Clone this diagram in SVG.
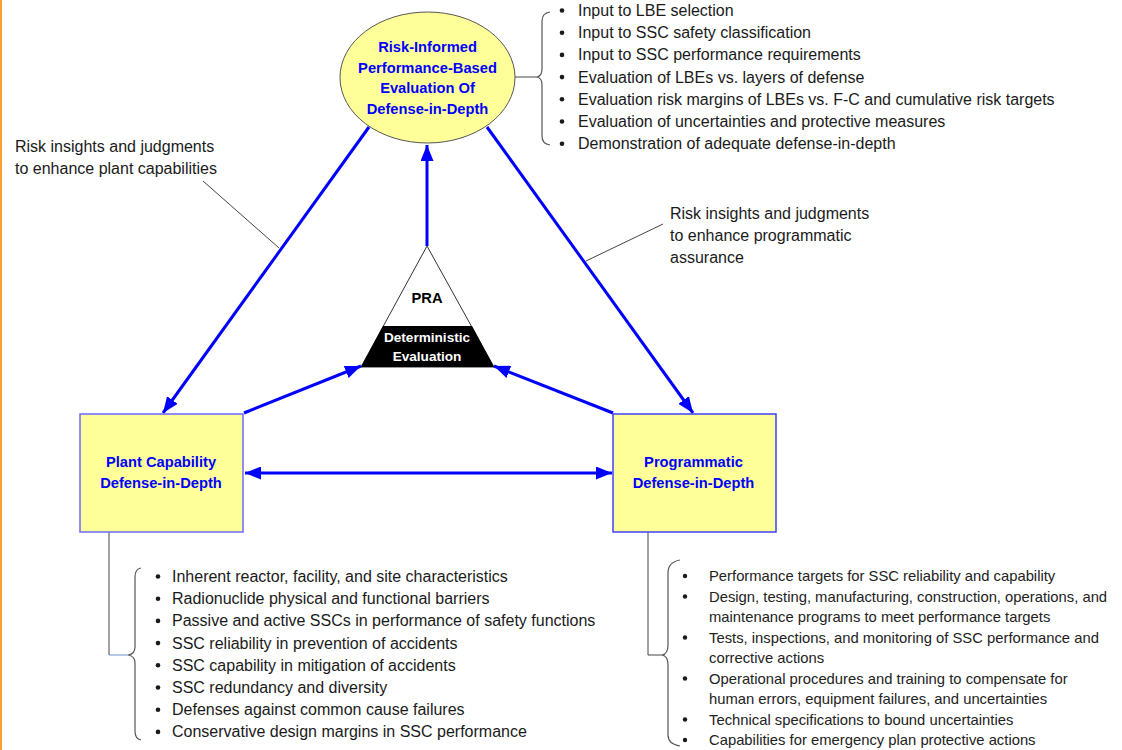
<svg xmlns="http://www.w3.org/2000/svg" width="1122" height="750" viewBox="0 0 1122 750">
<style>
.node-title{font-family:"Liberation Sans",Arial,sans-serif;font-weight:bold;fill:#0000ff;font-size:14.7px;text-anchor:middle}
.txt{font-family:"Liberation Sans",Arial,sans-serif;fill:#1a1a1a;font-size:16px}
.txt2{font-family:"Liberation Sans",Arial,sans-serif;fill:#222;font-size:14.8px}
.blue{stroke:#0000ff;stroke-width:3;fill:none}
.thin{stroke:#444;stroke-width:1;fill:none}
.brace{stroke:#555;stroke-width:1.2;fill:none}
.dot{fill:#1a1a1a}
</style>
<defs>
<marker id="ah" markerUnits="userSpaceOnUse" markerWidth="17" markerHeight="13" refX="16" refY="6.5" orient="auto-start-reverse" viewBox="0 0 17 13">
<path d="M0,0 L16,6.5 L0,13 z" fill="#0000ff"/>
</marker>
</defs>
<rect x="0" y="0" width="1122" height="750" fill="#ffffff"/>
<line x1="1" y1="0" x2="1" y2="750" stroke="#f5a030" stroke-width="2"/>

<g id="connectors">
<line class="blue" x1="427" y1="246" x2="427" y2="145" marker-end="url(#ah)"/>
<line class="blue" x1="369" y1="127" x2="163" y2="413" marker-end="url(#ah)"/>
<line class="blue" x1="487" y1="127" x2="693" y2="413" marker-end="url(#ah)"/>
<line class="blue" x1="244" y1="413" x2="361" y2="366" marker-end="url(#ah)"/>
<line class="blue" x1="613" y1="413" x2="494" y2="366" marker-end="url(#ah)"/>
<line class="blue" x1="245" y1="473" x2="612" y2="473" marker-start="url(#ah)" marker-end="url(#ah)"/>
<line class="thin" x1="203" y1="181" x2="279" y2="248"/>
<line class="thin" x1="663" y1="224" x2="586" y2="261"/>
<line class="thin" x1="515" y1="77" x2="537" y2="77"/>
<line class="thin" x1="109" y1="532" x2="109" y2="655"/>
<line x1="109" y1="655" x2="128" y2="655" stroke="#6f8fd0" stroke-width="1"/>
<line class="thin" x1="648" y1="532" x2="648" y2="655"/>
<line class="thin" x1="648" y1="655" x2="662" y2="655"/>
</g>

<g id="node-evaluation">
<ellipse cx="427.5" cy="77.5" rx="87.5" ry="65.5" fill="#ffff99" stroke="#555" stroke-width="1"/>
<text class="node-title" x="427.5" y="52">Risk-Informed</text>
<text class="node-title" x="427.5" y="72.5">Performance-Based</text>
<text class="node-title" x="427.5" y="93">Evaluation Of</text>
<text class="node-title" x="427.5" y="113.5">Defense-in-Depth</text>
</g>

<g id="node-pra">
<polygon points="427,246 361,367 494,367" fill="#ffffff" stroke="#333" stroke-width="1"/>
<polygon points="383,326 472,326 494,367 361,367" fill="#000000"/>
<text x="427" y="303" font-family="Liberation Sans, Arial, sans-serif" font-weight="bold" font-size="14.7" text-anchor="middle" fill="#000">PRA</text>
<text x="427" y="342" font-family="Liberation Sans, Arial, sans-serif" font-weight="bold" font-size="13.6" text-anchor="middle" fill="#fff">Deterministic</text>
<text x="427" y="361" font-family="Liberation Sans, Arial, sans-serif" font-weight="bold" font-size="13.6" text-anchor="middle" fill="#fff">Evaluation</text>
</g>

<g id="node-plant">
<rect x="80" y="414" width="163" height="118" fill="#ffff99" stroke="#6a6aff" stroke-width="1.5"/>
<text class="node-title" x="161" y="467">Plant Capability</text>
<text class="node-title" x="161" y="487.5">Defense-in-Depth</text>
</g>

<g id="node-programmatic">
<rect x="613" y="414" width="163" height="118" fill="#ffff99" stroke="#4040ff" stroke-width="1.5"/>
<text class="node-title" x="693.5" y="467">Programmatic</text>
<text class="node-title" x="693.5" y="487.5">Defense-in-Depth</text>
</g>

<g id="label-left">
<text class="txt" x="15" y="152">Risk insights and judgments</text>
<text class="txt" x="15" y="174">to enhance plant capabilities</text>
</g>

<g id="label-right">
<text class="txt" x="670" y="219">Risk insights and judgments</text>
<text class="txt" x="670" y="241">to enhance programmatic</text>
<text class="txt" x="670" y="263">assurance</text>
</g>

<g id="list-top">
<path class="brace" d="M550,12 Q542,13 542,21 L542,69 Q542,76 537,77 Q542,78 542,85 L542,136 Q542,144 550,145"/>
<g class="dot">
<circle cx="562" cy="10.5" r="2.3"/><circle cx="562" cy="32.7" r="2.3"/><circle cx="562" cy="54.9" r="2.3"/><circle cx="562" cy="77.1" r="2.3"/><circle cx="562" cy="99.3" r="2.3"/><circle cx="562" cy="121.5" r="2.3"/><circle cx="562" cy="143.7" r="2.3"/>
</g>
<text class="txt" x="578" y="16">Input to LBE selection</text>
<text class="txt" x="578" y="38.2">Input to SSC safety classification</text>
<text class="txt" x="578" y="60.4">Input to SSC performance requirements</text>
<text class="txt" x="578" y="82.6">Evaluation of LBEs vs. layers of defense</text>
<text class="txt" x="578" y="104.8">Evaluation risk margins of LBEs vs. F-C and cumulative risk targets</text>
<text class="txt" x="578" y="127">Evaluation of uncertainties and protective measures</text>
<text class="txt" x="578" y="149.2">Demonstration of adequate defense-in-depth</text>
</g>

<g id="list-plant">
<path class="brace" d="M141,568 Q135,569 135,577 L135,647 Q135,654 128,655 Q135,656 135,663 L135,731 Q135,739 141,740"/>
<g class="dot">
<circle cx="158" cy="576.5" r="2.3"/><circle cx="158" cy="598.7" r="2.3"/><circle cx="158" cy="620.9" r="2.3"/><circle cx="158" cy="643.1" r="2.3"/><circle cx="158" cy="665.3" r="2.3"/><circle cx="158" cy="687.5" r="2.3"/><circle cx="158" cy="709.7" r="2.3"/><circle cx="158" cy="731.9" r="2.3"/>
</g>
<text class="txt" x="172" y="582">Inherent reactor, facility, and site characteristics</text>
<text class="txt" x="172" y="604.2">Radionuclide physical and functional barriers</text>
<text class="txt" x="172" y="626.4">Passive and active SSCs in performance of safety functions</text>
<text class="txt" x="172" y="648.6">SSC reliability in prevention of accidents</text>
<text class="txt" x="172" y="670.8">SSC capability in mitigation of accidents</text>
<text class="txt" x="172" y="693">SSC redundancy and diversity</text>
<text class="txt" x="172" y="715.2">Defenses against common cause failures</text>
<text class="txt" x="172" y="737.4">Conservative design margins in SSC performance</text>
</g>

<g id="list-programmatic">
<path class="brace" d="M680,560 Q668,562 668,573 L668,645 Q668,654 662,655 Q668,656 668,665 L668,735 Q668,744 680,746"/>
<g class="dot">
<circle cx="685" cy="576" r="2.2"/><circle cx="685" cy="596.5" r="2.2"/><circle cx="685" cy="637.5" r="2.2"/><circle cx="685" cy="678.5" r="2.2"/><circle cx="685" cy="719.5" r="2.2"/><circle cx="685" cy="740" r="2.2"/>
</g>
<text class="txt2" x="709" y="581">Performance targets for SSC reliability and capability</text>
<text class="txt2" x="709" y="601.5">Design, testing, manufacturing, construction, operations, and</text>
<text class="txt2" x="709" y="622">maintenance programs to meet performance targets</text>
<text class="txt2" x="709" y="642.5">Tests, inspections, and monitoring of SSC performance and</text>
<text class="txt2" x="709" y="663">corrective actions</text>
<text class="txt2" x="709" y="683.5">Operational procedures and training to compensate for</text>
<text class="txt2" x="709" y="704">human errors, equipment failures, and uncertainties</text>
<text class="txt2" x="709" y="724.5">Technical specifications to bound uncertainties</text>
<text class="txt2" x="709" y="745">Capabilities for emergency plan protective actions</text>
</g>
</svg>
